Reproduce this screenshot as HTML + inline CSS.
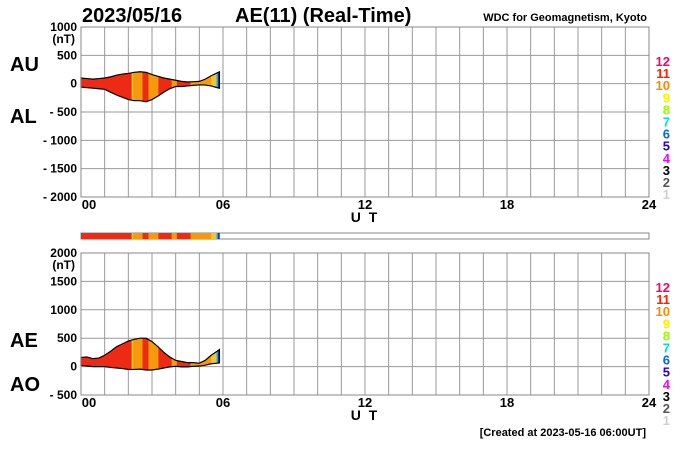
<!DOCTYPE html>
<html><head><meta charset="utf-8"><style>
body{margin:0;background:#fff;}
svg{display:block;font-family:"Liberation Sans",Arial,sans-serif;}
</style></head><body>
<svg id="c" width="700" height="450" viewBox="0 0 700 450" xmlns="http://www.w3.org/2000/svg">
<text x="82" y="22" font-size="20" font-weight="bold">2023/05/16</text>
<text x="235" y="22" font-size="20" font-weight="bold">AE(11) (Real-Time)</text>
<text x="647" y="21" font-size="11" font-weight="bold" text-anchor="end">WDC for Geomagnetism, Kyoto</text>
<text x="10" y="71" font-size="20" font-weight="bold">AU</text>
<text x="10" y="123" font-size="20" font-weight="bold">AL</text>
<text x="10" y="347" font-size="20" font-weight="bold">AE</text>
<text x="10" y="391" font-size="20" font-weight="bold">AO</text>
<text x="646" y="436" font-size="11" font-weight="bold" text-anchor="end">[Created at 2023-05-16 06:00UT]</text>
<g id="g"></g>
</svg>
<script>
const hours = [0,0.25,0.5,0.75,1,1.25,1.5,1.75,2,2.25,2.5,2.75,3,3.25,3.5,3.75,4,4.25,4.5,4.75,5,5.25,5.5,5.75,5.85];
const auValues = [100,90,80,90,100,120,150,170,180,200,210,200,160,130,100,80,60,40,30,35,40,80,140,190,210];
const alValues = [-60,-70,-80,-90,-100,-150,-200,-240,-280,-300,-300,-320,-280,-220,-150,-90,-50,-50,-40,-30,-20,-25,-40,-70,-80];
const aeValues = [160,170,140,150,200,270,350,400,450,480,500,500,440,350,250,170,110,90,70,70,60,110,200,270,300];
const aoValues = [20,10,0,0,0,-15,-25,-35,-50,-50,-45,-60,-60,-45,-25,-5,5,-5,-5,5,10,25,50,60,65];
const segStart = [0,2.14,2.2,2.6,2.85,3.27,3.83,4.05,4.63,5.5,5.72,5.78];
const segEnd = [2.14,2.2,2.6,2.85,3.27,3.83,4.05,4.63,5.5,5.72,5.78,5.85];
const segLevel = [11,9,10,11,10,11,10,11,10,9,7,5];
const levelColors = ["#d0d0d0","#555555","#000000","#ff00ff","#2200dd","#0066ff","#00dddd","#99ff00","#ffee00","#ff8800","#ff2200","#ff0066"];
const xTicks = ["00","06","12","18","24"];
const topTicks = [1000,500,0,-500,-1000,-1500,-2000];
const botTicks = [2000,1500,1000,500,0,-500];
const legendLevels = [12,11,10,9,8,7,6,5,4,3,2,1];
const segColorMap = {11:"#ee2a14",10:"#f59a0a",9:"#f7c430",7:"#22ccaa",5:"#1133cc"};

const NS="http://www.w3.org/2000/svg";
const G=document.getElementById('g');
function el(t,a,p){const e=document.createElementNS(NS,t);for(const k in a)e.setAttribute(k,a[k]);(p||G).appendChild(e);return e;}
const X0=81,X1=649;
function xs(h){return X0+(X1-X0)*h/24;}
function panel(id,yTop,yBot,vMax,vMin,ticks,upper,lower){
  const ys=v=>yTop+(vMax-v)*(yBot-yTop)/(vMax-vMin);
  const gp=el('g',{});
  
  
  for(let h=0;h<=24;h++){const l=el('line',{x1:xs(h),x2:xs(h),y1:yTop,y2:yBot,stroke:'#999','stroke-width':1},gp);
    }
  ticks.forEach(v=>{const l=el('line',{x1:X0,x2:X1,y1:ys(v),y2:ys(v),stroke:'#999','stroke-width':1},gp);
    
    const t=el('text',{x:X0-4,y:ys(v)+4,'font-size':12,'font-weight':'bold','text-anchor':'end'},gp);
    t.textContent=(v<0?'- '+(-v):String(v));
    });
  const nt=el('text',{x:X0-6,y:ys(ticks[0])+16,'font-size':12,'font-weight':'bold','text-anchor':'end'},gp);
  nt.textContent='(nT)';
  xTicks.forEach((s,i)=>{const t=el('text',{x:xs(i*6)+(i==0?8:0),y:yBot+12,'font-size':13,'font-weight':'bold','text-anchor':'middle'},gp);
    t.textContent=s;});
  const ut=el('text',{x:365,y:yBot+25,'font-size':14,'font-weight':'bold','text-anchor':'middle','letter-spacing':'2'},gp);
  ut.textContent='U T';
  let pts=hours.map((h,i)=>xs(h)+','+ys(upper[i]));
  let low=hours.map((h,i)=>xs(h)+','+ys(lower[i])).reverse();
  const cp=el('clipPath',{id:'clip-'+id},gp);
  el('polygon',{points:pts.concat(low).join(' ')},cp);
  const ga=el('g',{'clip-path':'url(#clip-'+id+')'},gp);
  segStart.forEach((s,i)=>{const r=el('rect',{x:xs(s),y:yTop,width:xs(segEnd[i])-xs(s)+0.3,height:yBot-yTop,fill:segColorMap[segLevel[i]]},ga);
    });
  const o=el('polygon',{points:pts.concat(low).join(' '),fill:'none',stroke:'#000','stroke-width':1.2},gp);
  
  el('rect',{x:X0,y:yTop,width:X1-X0,height:yBot-yTop,fill:'none',stroke:'#888'},gp);
  legendLevels.forEach((lv,i)=>{const t=el('text',{x:670,y:yTop+39+i*12.1,'font-size':13,'font-weight':'bold','text-anchor':'end',fill:levelColors[lv-1]},gp);
    t.textContent=lv;});
}
panel('au-al',27,197,1000,-2000,topTicks,auValues,alValues);
panel('ae-ao',253,395,2000,-500,botTicks,aeValues,aoValues);
const cb=el('g',{});


el('rect',{x:X0,y:233,width:X1-X0,height:6,fill:'#fff',stroke:'#888'},cb);
segStart.forEach((s,i)=>{const r=el('rect',{x:xs(s),y:233,width:xs(segEnd[i])-xs(s)+0.3,height:6,fill:segColorMap[segLevel[i]]},cb);
  });
</script>
</body></html>
